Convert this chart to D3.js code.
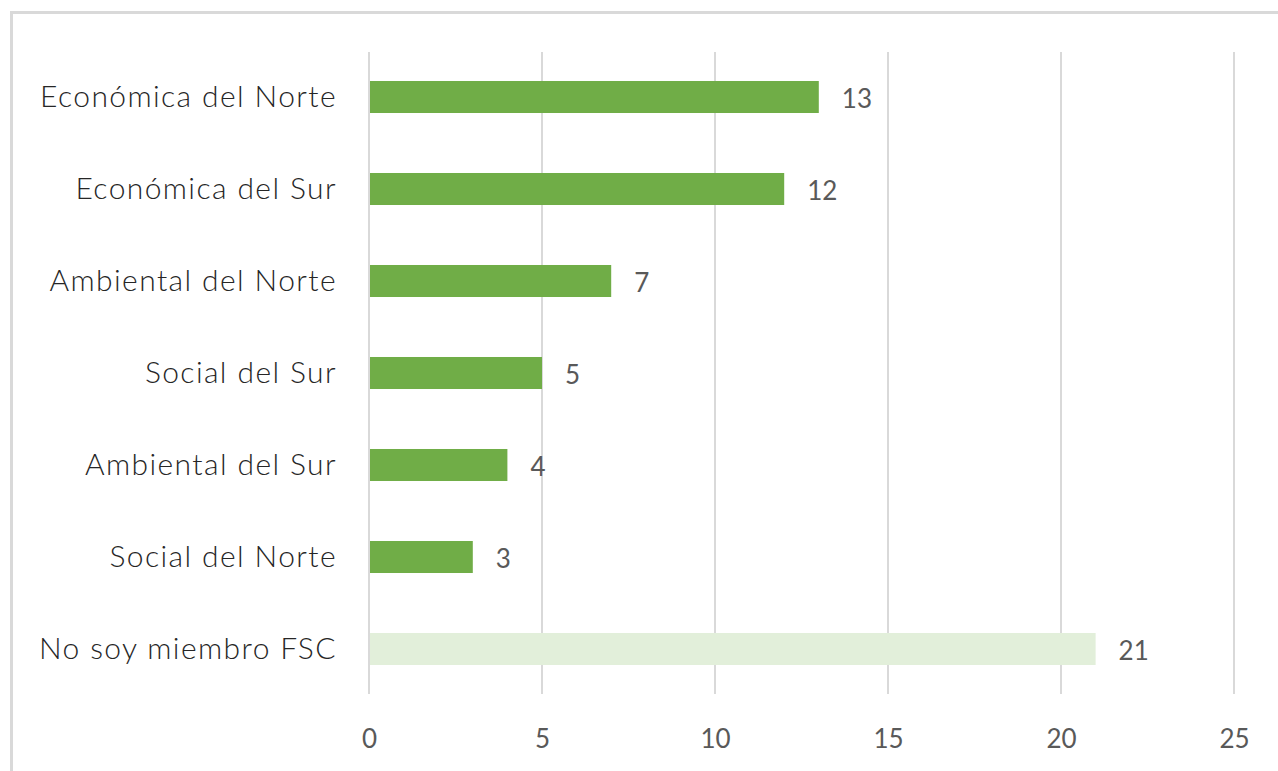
<!DOCTYPE html>
<html>
<head>
<meta charset="utf-8">
<script src="https://cdn.jsdelivr.net/npm/d3@7"></script>
<style>
  body { margin: 0; background: #fff; }
  svg { display: block; }
</style>
</head>
<body>
<div id="chart"></div>
<script>
const categories = [
    "Económica del Norte",
    "Económica del Sur",
    "Ambiental del Norte",
    "Social del Sur",
    "Ambiental del Sur",
    "Social del Norte",
    "No soy miembro FSC"
];
const values = [13, 12, 7, 5, 4, 3, 21];
const barColors = ["#70AD47", "#70AD47", "#70AD47", "#70AD47", "#70AD47", "#70AD47", "#E2EFDA"];
const xTicks = [0, 5, 10, 15, 20, 25];

const data = categories.map((c, i) => ({ name: c, value: values[i], color: barColors[i] }));

const width = 1278, height = 771;
const svg = d3.select("#chart").append("svg")
    .attr("width", width)
    .attr("height", height);

// chart frame (runs off the right and bottom edges)
svg.append("rect")
    .attr("x", 11.5)
    .attr("y", 12.5)
    .attr("width", 1400)
    .attr("height", 900)
    .attr("fill", "none")
    .attr("stroke", "#d9d9d9")
    .attr("stroke-width", 3);

const x = d3.scaleLinear().domain([0, 25]).range([369, 1234]);
const y = d3.scaleBand()
    .domain(categories)
    .range([51, 695])
    .paddingInner(0.652)
    .paddingOuter(0.326);

// gridlines
svg.append("g")
    .selectAll("line")
    .data(xTicks)
    .enter().append("line")
    .attr("x1", d => x(d))
    .attr("x2", d => x(d))
    .attr("y1", 52)
    .attr("y2", 694)
    .attr("stroke", "#d9d9d9")
    .attr("stroke-width", 2);

// bars
svg.append("g")
    .selectAll("rect")
    .data(data)
    .enter().append("rect")
    .attr("x", x(0) + 1)
    .attr("y", d => y(d.name))
    .attr("width", d => x(d.value) - x(0) - 1)
    .attr("height", y.bandwidth())
    .attr("fill", d => d.color);

// value labels
svg.append("g")
    .selectAll("text")
    .data(data)
    .enter().append("text")
    .attr("x", d => x(d.value) + 23)
    .attr("y", d => y(d.name) + y.bandwidth() / 2 + 2)
    .attr("dy", "0.36em")
    .attr("fill", "#595959")
    .style("font-family", "Lato, 'Open Sans', sans-serif")
    .style("font-size", "26px")
    .text(d => d.value);

// category axis
const yAxis = svg.append("g")
    .attr("transform", `translate(${x(0)},0)`)
    .call(d3.axisLeft(y).tickSize(0).tickPadding(32));
yAxis.select(".domain").remove();
yAxis.selectAll("text")
    .attr("fill", "#262626")
    .style("font-family", "Lato, 'Noto Sans', sans-serif")
    .style("font-size", "30px")
    .style("font-weight", 300)
    .style("letter-spacing", "1.4px");

// value axis
const xAxis = svg.append("g")
    .attr("transform", "translate(0,735)")
    .call(d3.axisBottom(x).tickValues(xTicks).tickSize(0).tickPadding(0));
xAxis.select(".domain").remove();
xAxis.selectAll("text")
    .attr("fill", "#595959")
    .attr("dy", "0.5em")
    .style("font-family", "Lato, 'Open Sans', sans-serif")
    .style("font-size", "26px");
</script>
</body>
</html>
